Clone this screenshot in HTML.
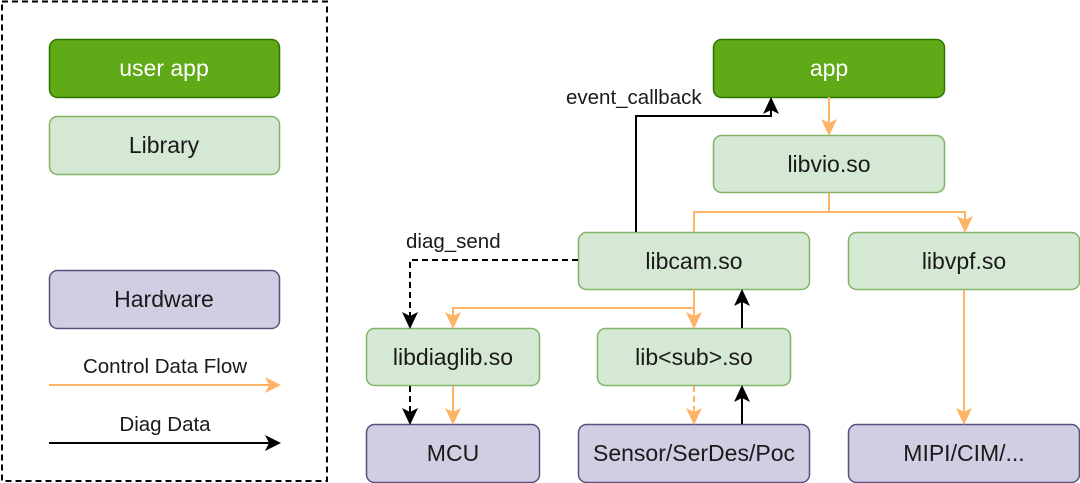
<!DOCTYPE html>
<html><head><meta charset="utf-8"><style>
html,body{margin:0;padding:0;background:#fff;}
svg{display:block;font-family:"Liberation Sans",Arial,sans-serif;}
</style></head><body>
<svg width="1080" height="483" viewBox="0 0 1080 483" xmlns="http://www.w3.org/2000/svg">
<rect x="2" y="1.5" width="325" height="479.5" fill="none" stroke="#000" stroke-width="2" stroke-dasharray="6,4"/>
<g stroke-width="1.5">
<rect x="49.5" y="39.5" width="230" height="58" rx="8" fill="#60A917" stroke="#2D7600"/>
<rect x="49.5" y="116.5" width="230" height="58" rx="8" fill="#D5E8D4" stroke="#82B366"/>
<rect x="49.5" y="270.5" width="230" height="58" rx="8" fill="#D0CEE2" stroke="#56517E"/>
<rect x="713.5" y="39.5" width="231" height="58" rx="8" fill="#60A917" stroke="#2D7600"/>
<rect x="713.5" y="135.5" width="231" height="57" rx="8" fill="#D5E8D4" stroke="#82B366"/>
<rect x="578.5" y="232.5" width="231" height="57" rx="8" fill="#D5E8D4" stroke="#82B366"/>
<rect x="848.5" y="232.5" width="231" height="57" rx="8" fill="#D5E8D4" stroke="#82B366"/>
<rect x="366.5" y="328.5" width="173" height="57" rx="8" fill="#D5E8D4" stroke="#82B366"/>
<rect x="597.5" y="328.5" width="193" height="57" rx="8" fill="#D5E8D4" stroke="#82B366"/>
<rect x="366.5" y="424.5" width="173" height="58" rx="8" fill="#D0CEE2" stroke="#56517E"/>
<rect x="578.5" y="424.5" width="231" height="58" rx="8" fill="#D0CEE2" stroke="#56517E"/>
<rect x="848.5" y="424.5" width="231" height="58" rx="8" fill="#D0CEE2" stroke="#56517E"/>
</g>
<g font-size="23" text-anchor="middle" fill="#1a1a1a">
<text x="164" y="76" fill="#fff">user app</text>
<text x="164" y="153">Library</text>
<text x="164" y="307">Hardware</text>
<text x="829" y="76" fill="#fff">app</text>
<text x="829" y="172">libvio.so</text>
<text x="694" y="269">libcam.so</text>
<text x="964" y="269">libvpf.so</text>
<text x="453" y="365">libdiaglib.so</text>
<text x="694" y="365">lib&lt;sub&gt;.so</text>
<text x="453" y="461">MCU</text>
<text x="694" y="461">Sensor/SerDes/Poc</text>
<text x="964" y="461">MIPI/CIM/...</text>
</g>
<g font-size="20.5" fill="#1a1a1a">
<text x="165" y="373" text-anchor="middle">Control Data Flow</text>
<text x="165" y="431" text-anchor="middle">Diag Data</text>
<text x="566" y="104">event_callback</text>
<text x="406" y="248">diag_send</text>
</g>
<g fill="none" stroke-width="2">
<line x1="49" y1="385" x2="272" y2="385" stroke="#FFB366"/>
<line x1="49" y1="443" x2="272" y2="443" stroke="#000"/>
<polyline points="636,232 636,116 771,116 771,106" stroke="#000"/>
<line x1="829" y1="97" x2="829" y2="127" stroke="#FFB366"/>
<polyline points="829,193 829,212 694,212 694,232" stroke="#FFB366"/>
<polyline points="829,212 965,212 965,224" stroke="#FFB366"/>
<polyline points="694,289 694,308 453,308 453,320" stroke="#FFB366"/>
<line x1="694" y1="308" x2="694" y2="320" stroke="#FFB366"/>
<polyline points="578,260 410,260 410,320" stroke="#000" stroke-dasharray="6,4"/>
<line x1="742" y1="328" x2="742" y2="298" stroke="#000"/>
<line x1="742" y1="424" x2="742" y2="394" stroke="#000"/>
<line x1="694" y1="386" x2="694" y2="416" stroke="#FFB366" stroke-dasharray="6,4"/>
<line x1="410" y1="386" x2="410" y2="416" stroke="#000" stroke-dasharray="6,4"/>
<line x1="453" y1="386" x2="453" y2="416" stroke="#FFB366"/>
<line x1="964" y1="290" x2="964" y2="416" stroke="#FFB366"/>
</g>
<g fill="#FFB366">
<path d="M265,377 L281,385 L265,393 L269,385 Z"/>
<path d="M821,119 L829,136 L837,119 L829,123 Z"/>
<path d="M957,216 L965,233 L973,216 L965,220 Z"/>
<path d="M445,312 L453,329 L461,312 L453,316 Z"/>
<path d="M686,312 L694,329 L702,312 L694,316 Z"/>
<path d="M686,408 L694,425 L702,408 L694,412 Z"/>
<path d="M445,408 L453,425 L461,408 L453,412 Z"/>
<path d="M956,408 L964,425 L972,408 L964,412 Z"/>
</g>
<g fill="#000">
<path d="M265,435 L281,443 L265,451 L269,443 Z"/>
<path d="M763,114 L771,97 L779,114 L771,110 Z"/>
<path d="M402,312 L410,329 L418,312 L410,316 Z"/>
<path d="M402,408 L410,425 L418,408 L410,412 Z"/>
<path d="M734,306 L742,289 L750,306 L742,302 Z"/>
<path d="M734,402 L742,385 L750,402 L742,398 Z"/>
</g>
</svg>
</body></html>
